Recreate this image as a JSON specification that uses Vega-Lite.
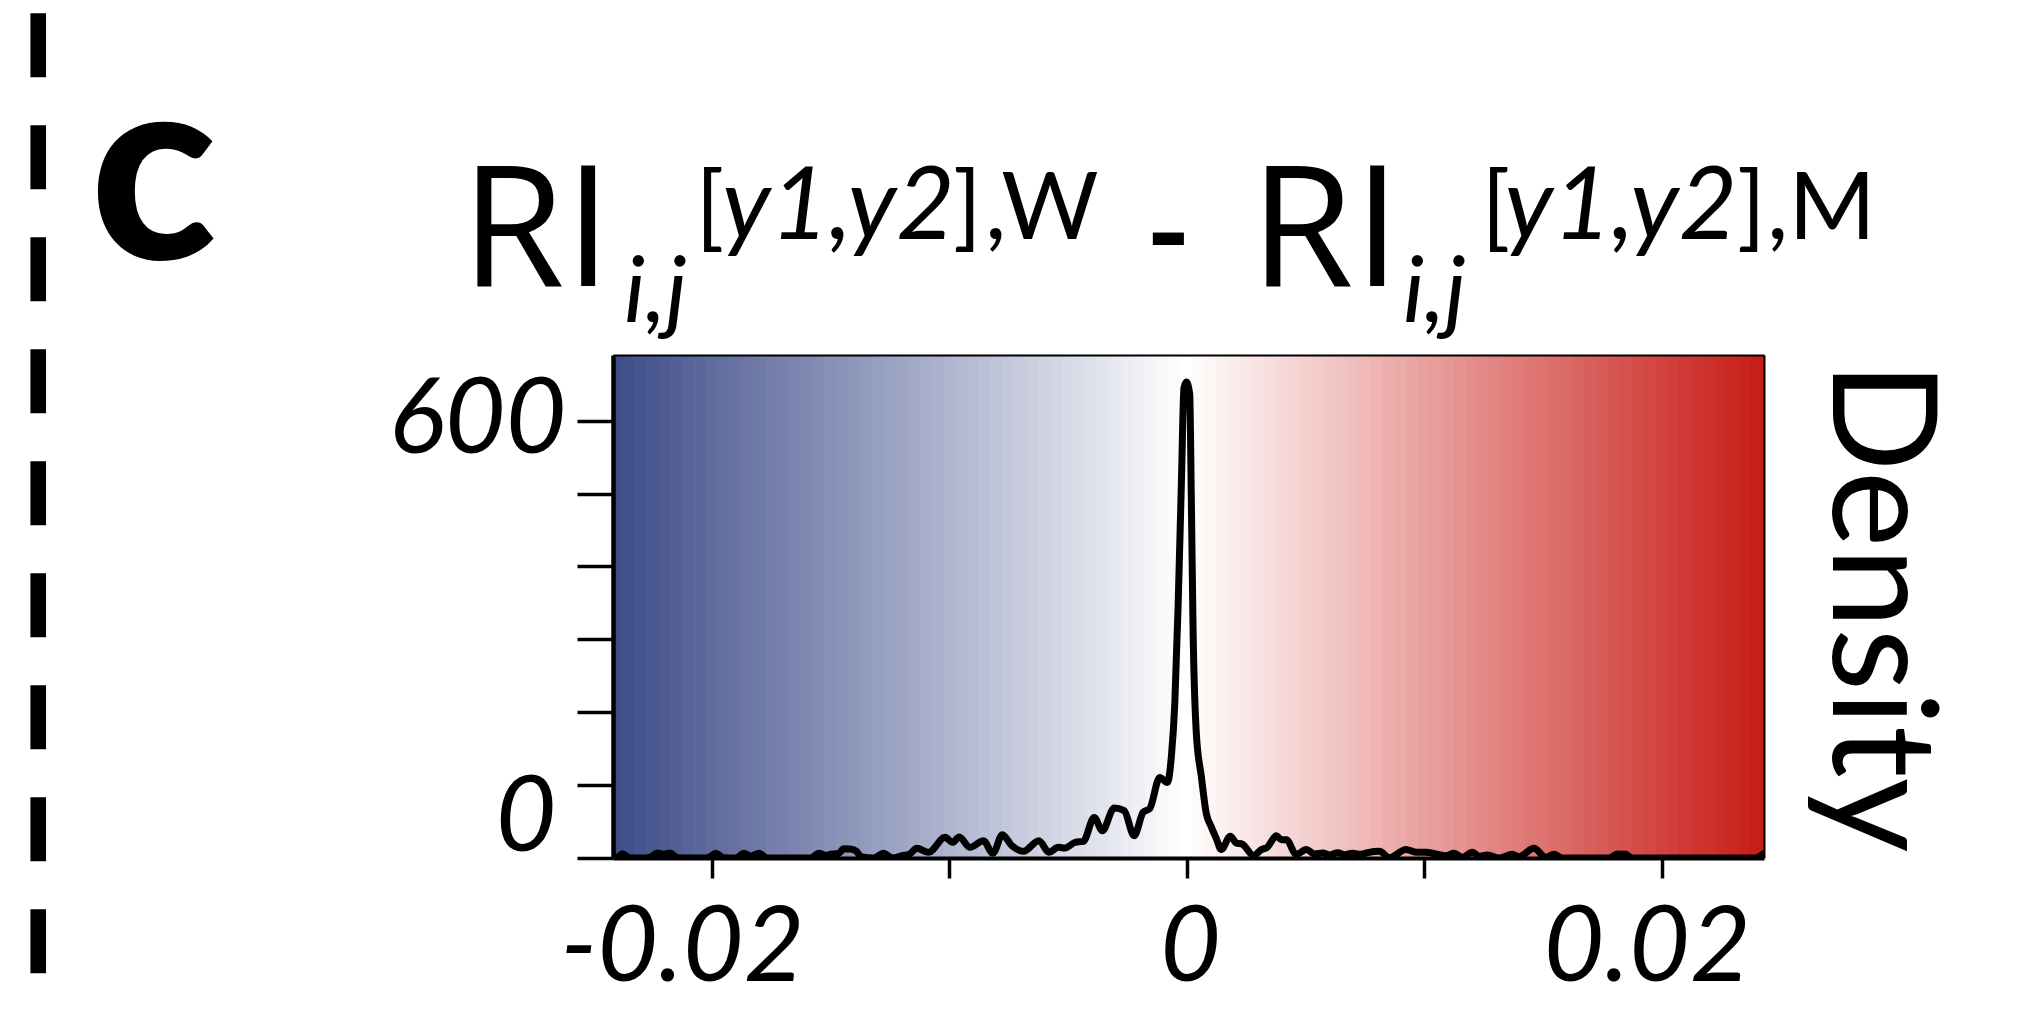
{
"$schema": "https://vega.github.io/schema/vega-lite/v6.json",
"width": 1151, "height": 503,
"autosize": {"type": "none"},
"padding": {"left": 613, "top": 355, "right": 277, "bottom": 162},
"background": "white",
"config": {"view": {"stroke": null}, "font": "Lato"},
"datasets": {
"bands": [
{"lo":-0.02475,"hi":-0.02425,"c":-0.0245},{"lo":-0.02425,"hi":-0.02375,"c":-0.024},{"lo":-0.02375,"hi":-0.02325,"c":-0.0235},{"lo":-0.02325,"hi":-0.02275,"c":-0.023},{"lo":-0.02275,"hi":-0.02225,"c":-0.0225},{"lo":-0.02225,"hi":-0.02175,"c":-0.022},{"lo":-0.02175,"hi":-0.02125,"c":-0.0215},{"lo":-0.02125,"hi":-0.02075,"c":-0.021},{"lo":-0.02075,"hi":-0.02025,"c":-0.0205},{"lo":-0.02025,"hi":-0.01975,"c":-0.02},
{"lo":-0.01975,"hi":-0.01925,"c":-0.0195},{"lo":-0.01925,"hi":-0.01875,"c":-0.019},{"lo":-0.01875,"hi":-0.01825,"c":-0.0185},{"lo":-0.01825,"hi":-0.01775,"c":-0.018},{"lo":-0.01775,"hi":-0.01725,"c":-0.0175},{"lo":-0.01725,"hi":-0.01675,"c":-0.017},{"lo":-0.01675,"hi":-0.01625,"c":-0.0165},{"lo":-0.01625,"hi":-0.01575,"c":-0.016},{"lo":-0.01575,"hi":-0.01525,"c":-0.0155},{"lo":-0.01525,"hi":-0.01475,"c":-0.015},
{"lo":-0.01475,"hi":-0.01425,"c":-0.0145},{"lo":-0.01425,"hi":-0.01375,"c":-0.014},{"lo":-0.01375,"hi":-0.01325,"c":-0.0135},{"lo":-0.01325,"hi":-0.01275,"c":-0.013},{"lo":-0.01275,"hi":-0.01225,"c":-0.0125},{"lo":-0.01225,"hi":-0.01175,"c":-0.012},{"lo":-0.01175,"hi":-0.01125,"c":-0.0115},{"lo":-0.01125,"hi":-0.01075,"c":-0.011},{"lo":-0.01075,"hi":-0.01025,"c":-0.0105},{"lo":-0.01025,"hi":-0.00975,"c":-0.01},
{"lo":-0.00975,"hi":-0.00925,"c":-0.0095},{"lo":-0.00925,"hi":-0.00875,"c":-0.009},{"lo":-0.00875,"hi":-0.00825,"c":-0.0085},{"lo":-0.00825,"hi":-0.00775,"c":-0.008},{"lo":-0.00775,"hi":-0.00725,"c":-0.0075},{"lo":-0.00725,"hi":-0.00675,"c":-0.007},{"lo":-0.00675,"hi":-0.00625,"c":-0.0065},{"lo":-0.00625,"hi":-0.00575,"c":-0.006},{"lo":-0.00575,"hi":-0.00525,"c":-0.0055},{"lo":-0.00525,"hi":-0.00475,"c":-0.005},
{"lo":-0.00475,"hi":-0.00425,"c":-0.0045},{"lo":-0.00425,"hi":-0.00375,"c":-0.004},{"lo":-0.00375,"hi":-0.00325,"c":-0.0035},{"lo":-0.00325,"hi":-0.00275,"c":-0.003},{"lo":-0.00275,"hi":-0.00225,"c":-0.0025},{"lo":-0.00225,"hi":-0.00175,"c":-0.002},{"lo":-0.00175,"hi":-0.00125,"c":-0.0015},{"lo":-0.00125,"hi":-0.00075,"c":-0.001},{"lo":-0.00075,"hi":-0.00025,"c":-0.0005},{"lo":-0.00025,"hi":0.00025,"c":0},
{"lo":0.00025,"hi":0.00075,"c":0.0005},{"lo":0.00075,"hi":0.00125,"c":0.001},{"lo":0.00125,"hi":0.00175,"c":0.0015},{"lo":0.00175,"hi":0.00225,"c":0.002},{"lo":0.00225,"hi":0.00275,"c":0.0025},{"lo":0.00275,"hi":0.00325,"c":0.003},{"lo":0.00325,"hi":0.00375,"c":0.0035},{"lo":0.00375,"hi":0.00425,"c":0.004},{"lo":0.00425,"hi":0.00475,"c":0.0045},{"lo":0.00475,"hi":0.00525,"c":0.005},
{"lo":0.00525,"hi":0.00575,"c":0.0055},{"lo":0.00575,"hi":0.00625,"c":0.006},{"lo":0.00625,"hi":0.00675,"c":0.0065},{"lo":0.00675,"hi":0.00725,"c":0.007},{"lo":0.00725,"hi":0.00775,"c":0.0075},{"lo":0.00775,"hi":0.00825,"c":0.008},{"lo":0.00825,"hi":0.00875,"c":0.0085},{"lo":0.00875,"hi":0.00925,"c":0.009},{"lo":0.00925,"hi":0.00975,"c":0.0095},{"lo":0.00975,"hi":0.01025,"c":0.01},
{"lo":0.01025,"hi":0.01075,"c":0.0105},{"lo":0.01075,"hi":0.01125,"c":0.011},{"lo":0.01125,"hi":0.01175,"c":0.0115},{"lo":0.01175,"hi":0.01225,"c":0.012},{"lo":0.01225,"hi":0.01275,"c":0.0125},{"lo":0.01275,"hi":0.01325,"c":0.013},{"lo":0.01325,"hi":0.01375,"c":0.0135},{"lo":0.01375,"hi":0.01425,"c":0.014},{"lo":0.01425,"hi":0.01475,"c":0.0145},{"lo":0.01475,"hi":0.01525,"c":0.015},
{"lo":0.01525,"hi":0.01575,"c":0.0155},{"lo":0.01575,"hi":0.01625,"c":0.016},{"lo":0.01625,"hi":0.01675,"c":0.0165},{"lo":0.01675,"hi":0.01725,"c":0.017},{"lo":0.01725,"hi":0.01775,"c":0.0175},{"lo":0.01775,"hi":0.01825,"c":0.018},{"lo":0.01825,"hi":0.01875,"c":0.0185},{"lo":0.01875,"hi":0.01925,"c":0.019},{"lo":0.01925,"hi":0.01975,"c":0.0195},{"lo":0.01975,"hi":0.02025,"c":0.02},
{"lo":0.02025,"hi":0.02075,"c":0.0205},{"lo":0.02075,"hi":0.02125,"c":0.021},{"lo":0.02125,"hi":0.02175,"c":0.0215},{"lo":0.02175,"hi":0.02225,"c":0.022},{"lo":0.02225,"hi":0.02275,"c":0.0225},{"lo":0.02275,"hi":0.02325,"c":0.023},{"lo":0.02325,"hi":0.02375,"c":0.0235},{"lo":0.02375,"hi":0.02425,"c":0.024},{"lo":0.02425,"hi":0.02475,"c":0.0245}
],
"density": [
{"x":-0.0242,"d":0.3},{"x":-0.02395,"d":1.5},{"x":-0.02377,"d":5.9},{"x":-0.02349,"d":0.5},{"x":-0.02286,"d":0},{"x":-0.0226,"d":1},{"x":-0.0223,"d":6.9},{"x":-0.02202,"d":5.0},{"x":-0.02177,"d":6.9},{"x":-0.02145,"d":0.5},
{"x":-0.0204,"d":0},{"x":-0.02015,"d":0.8},{"x":-0.01984,"d":6.4},{"x":-0.01952,"d":0.5},{"x":-0.019,"d":0},{"x":-0.01865,"d":6.4},{"x":-0.01837,"d":2.7},{"x":-0.01802,"d":6.4},{"x":-0.01767,"d":0},{"x":-0.01585,"d":0},
{"x":-0.0155,"d":6.4},{"x":-0.01522,"d":3.7},{"x":-0.01494,"d":5.5},{"x":-0.01466,"d":6.4},{"x":-0.01445,"d":12.8},{"x":-0.01417,"d":12.3},{"x":-0.01392,"d":9.1},{"x":-0.01372,"d":1.8},{"x":-0.01319,"d":0},{"x":-0.01277,"d":6.4},
{"x":-0.01242,"d":0.5},{"x":-0.01228,"d":0.5},{"x":-0.012,"d":3.2},{"x":-0.01172,"d":4.6},{"x":-0.01137,"d":13.3},{"x":-0.01088,"d":7.8},{"x":-0.01018,"d":28.3},{"x":-0.00987,"d":21.5},{"x":-0.00959,"d":28.8},{"x":-0.00913,"d":14.6},
{"x":-0.00857,"d":23.8},{"x":-0.00817,"d":6.4},{"x":-0.00777,"d":32},{"x":-0.00737,"d":16.9},{"x":-0.00688,"d":9.1},{"x":-0.00623,"d":23.8},{"x":-0.00581,"d":7.8},{"x":-0.00541,"d":14.6},{"x":-0.00513,"d":13.7},{"x":-0.00471,"d":21.5},
{"x":-0.00436,"d":22.9},{"x":-0.0039,"d":55.7},{"x":-0.00356,"d":37.4},{"x":-0.00306,"d":68.5},{"x":-0.00264,"d":64.9},{"x":-0.00222,"d":30.6},{"x":-0.00184,"d":62.6},{"x":-0.00156,"d":68},{"x":-0.00114,"d":110.5},{"x":-0.00082,"d":103.6},
{"x":-0.00065,"d":140},{"x":-0.00051,"d":210},{"x":-0.00037,"d":343},{"x":-0.00023,"d":514},{"x":-0.00012,"d":645},{"x":-0.00002,"d":653},{"x":0.00012,"d":637},{"x":0.00019,"d":490},{"x":0.00026,"d":318},{"x":0.0004,"d":171},
{"x":0.00061,"d":112},{"x":0.00082,"d":61},{"x":0.00103,"d":42.7},{"x":0.00124,"d":26.7},{"x":0.00145,"d":11.6},{"x":0.00183,"d":30},{"x":0.00208,"d":20.7},{"x":0.00234,"d":18.9},{"x":0.00281,"d":3.4},{"x":0.00314,"d":11.6},
{"x":0.00337,"d":14.2},{"x":0.00377,"d":30.4},{"x":0.00398,"d":25.1},{"x":0.00419,"d":25.1},{"x":0.00461,"d":4.8},{"x":0.00503,"d":11.6},{"x":0.00538,"d":5.5},{"x":0.00573,"d":6.9},{"x":0.00601,"d":4.1},{"x":0.00636,"d":7.3},
{"x":0.00664,"d":4.6},{"x":0.00699,"d":6.4},{"x":0.00734,"d":5},{"x":0.00762,"d":7.3},{"x":0.00811,"d":9.1},{"x":0.00853,"d":0.5},{"x":0.00923,"d":11.6},{"x":0.00965,"d":8},{"x":0.01007,"d":8},{"x":0.01049,"d":5.5},
{"x":0.01091,"d":3.2},{"x":0.01126,"d":6.4},{"x":0.01161,"d":1},{"x":0.01203,"d":8},{"x":0.01231,"d":2.3},{"x":0.01266,"d":4.1},{"x":0.01315,"d":0},{"x":0.01371,"d":5},{"x":0.01399,"d":1.8},{"x":0.01462,"d":13.3},
{"x":0.01512,"d":0.9},{"x":0.01546,"d":5},{"x":0.01581,"d":0},{"x":0.01778,"d":0},{"x":0.01813,"d":5.5},{"x":0.01848,"d":5},{"x":0.01876,"d":0},{"x":0.02394,"d":0},{"x":0.0243,"d":6}
]
},
"resolve": {"axis": {"x": "independent", "y": "independent"}},
"layer": [
{
"data": {"name": "bands"},
"mark": {"type": "rect", "clip": true, "strokeWidth": 1},
"encoding": {
"x": {"field": "lo", "type": "quantitative", "scale": {"domain": [-0.02417, 0.02431], "nice": false, "zero": false},
 "axis": {"orient": "bottom", "values": [-0.02, -0.01, 0, 0.01, 0.02], "domain": true, "domainColor": "black", "domainWidth": 4, "ticks": true, "tickColor": "black", "tickWidth": 3.5, "tickSize": 20,
  "labelExpr": "abs(datum.value) < 0.0001 ? '0' : abs(datum.value + 0.02) < 0.0001 ? '-0.02' : abs(datum.value - 0.02) < 0.0001 ? '0.02' : ''",
  "labelFont": "Lato", "labelFontStyle": "italic", "labelFontSize": 105, "labelColor": "black", "labelPadding": 19, "labelBaseline": "top", "labelAlign": "center", "labelLimit": 1000,
  "labelOffset": {"condition": [{"test": "datum.value < -0.001", "value": -30}, {"test": "datum.value > 0.001", "value": -15}], "value": 3},
  "labelOverlap": false, "labelFlush": false, "labelBound": false, "grid": false, "title": null, "zindex": 1}},
"x2": {"field": "hi"},
"color": {"field": "c", "type": "quantitative", "scale": {"domain": [-0.0242, 0, 0.0242], "range": ["#3D4C89", "#FFFFFF", "#C81C17"], "interpolate": "rgb", "clamp": true}, "legend": null},
"stroke": {"field": "c", "type": "quantitative", "scale": {"domain": [-0.0242, 0, 0.0242], "range": ["#3D4C89", "#FFFFFF", "#C81C17"], "interpolate": "rgb", "clamp": true}, "legend": null}
}
},
{
"data": {"name": "density"},
"mark": {"type": "line", "interpolate": "monotone", "stroke": "black", "strokeWidth": 7, "strokeJoin": "round", "strokeCap": "round", "clip": true},
"encoding": {
"x": {"field": "x", "type": "quantitative", "scale": {"domain": [-0.02417, 0.02431], "nice": false, "zero": false},
 "axis": {"orient": "top", "domainColor": "black", "domainWidth": 2, "ticks": false, "labels": false, "grid": false, "title": null, "zindex": 1}},
"y": {"field": "d", "type": "quantitative", "scale": {"domain": [0, 690], "nice": false, "zero": false},
 "axis": {"orient": "left", "values": [0, 100, 200, 300, 400, 500, 600], "domainColor": "black", "domainWidth": 4.5, "tickColor": "black", "tickWidth": 3.5, "tickSize": 36,
  "labelExpr": "datum.value == 0 ? '0' : datum.value == 600 ? '600' : ''",
  "labelFont": "Lato", "labelFontStyle": "italic", "labelFontSize": 105, "labelColor": "black", "labelAlign": "right", "labelBaseline": "middle", "labelLimit": 1000,
  "labelPadding": {"condition": {"test": "datum.value == 0", "value": 21}, "value": 11},
  "labelOffset": {"condition": {"test": "datum.value == 0", "value": -40}, "value": 0},
  "labelOverlap": false, "labelFlush": false, "labelBound": false, "grid": false, "title": null, "zindex": 1}}
}
},
{
"data": {"values": [{}]},
"mark": {"type": "rule", "color": "black", "strokeWidth": 15.6, "strokeDash": [64, 48], "strokeCap": "butt"},
"encoding": {
"x": {"datum": -0.048379, "type": "quantitative", "scale": {"domain": [-0.02417, 0.02431], "nice": false, "zero": false}, "axis": null},
"y": {"datum": 1158.7, "type": "quantitative", "scale": {"domain": [0, 690], "nice": false, "zero": false},
 "axis": {"orient": "right", "domainColor": "black", "domainWidth": 2, "ticks": false, "labels": false, "grid": false, "title": "Density", "titleFont": "Lato", "titleFontSize": 145, "titleFontWeight": "normal", "titleColor": "black", "titleAngle": 90, "titleAlign": "center", "titleBaseline": "alphabetic", "titleX": 68, "titleY": 251.5, "titleLimit": 1000, "zindex": 1}},
"y2": {"datum": -158.2}
}
},
{"data": {"values": [{}]}, "mark": {"type": "text", "text": "c", "font": "Lato", "fontSize": 262, "fontWeight": 900, "align": "left", "baseline": "alphabetic", "color": "black"},
 "encoding": {"x": {"datum": -0.046197, "type": "quantitative", "scale": {"domain": [-0.02417, 0.02431], "nice": false, "zero": false}, "axis": null}, "y": {"datum": 821.69, "type": "quantitative", "scale": {"domain": [0, 690], "nice": false, "zero": false}, "axis": null}}},
{"data": {"values": [{}]}, "mark": {"type": "text", "text": "RI", "font": "Open Sans", "fontSize": 168, "align": "left", "baseline": "alphabetic", "color": "black"},
 "encoding": {"x": {"datum": -0.03057, "type": "quantitative", "scale": {"domain": [-0.02417, 0.02431], "nice": false, "zero": false}, "axis": null}, "y": {"datum": 783.97, "type": "quantitative", "scale": {"domain": [0, 690], "nice": false, "zero": false}, "axis": null}}},
{"data": {"values": [{}]}, "mark": {"type": "text", "text": "i,j", "font": "Lato", "fontSize": 92, "fontStyle": "italic", "align": "left", "baseline": "alphabetic", "color": "black"},
 "encoding": {"x": {"datum": -0.023705, "type": "quantitative", "scale": {"domain": [-0.02417, 0.02431], "nice": false, "zero": false}, "axis": null}, "y": {"datum": 735.67, "type": "quantitative", "scale": {"domain": [0, 690], "nice": false, "zero": false}, "axis": null}}},
{"data": {"values": [{}]}, "mark": {"type": "text", "text": "[", "font": "Lato", "fontSize": 94, "align": "left", "baseline": "alphabetic", "color": "black"},
 "encoding": {"x": {"datum": -0.020693, "type": "quantitative", "scale": {"domain": [-0.02417, 0.02431], "nice": false, "zero": false}, "axis": null}, "y": {"datum": 848.71, "type": "quantitative", "scale": {"domain": [0, 690], "nice": false, "zero": false}, "axis": null}}},
{"data": {"values": [{}]}, "mark": {"type": "text", "text": "y1,y2", "font": "Lato", "fontSize": 101, "fontStyle": "italic", "align": "left", "baseline": "alphabetic", "color": "black"},
 "encoding": {"x": {"datum": -0.019577, "type": "quantitative", "scale": {"domain": [-0.02417, 0.02431], "nice": false, "zero": false}, "axis": null}, "y": {"datum": 848.71, "type": "quantitative", "scale": {"domain": [0, 690], "nice": false, "zero": false}, "axis": null}}},
{"data": {"values": [{}]}, "mark": {"type": "text", "text": "]", "font": "Lato", "fontSize": 94, "align": "left", "baseline": "alphabetic", "color": "black"},
 "encoding": {"x": {"datum": -0.009848, "type": "quantitative", "scale": {"domain": [-0.02417, 0.02431], "nice": false, "zero": false}, "axis": null}, "y": {"datum": 848.71, "type": "quantitative", "scale": {"domain": [0, 690], "nice": false, "zero": false}, "axis": null}}},
{"data": {"values": [{}]}, "mark": {"type": "text", "text": ",W", "font": "Lato", "fontSize": 94, "align": "left", "baseline": "alphabetic", "color": "black"},
 "encoding": {"x": {"datum": -0.0085, "type": "quantitative", "scale": {"domain": [-0.02417, 0.02431], "nice": false, "zero": false}, "axis": null}, "y": {"datum": 848.71, "type": "quantitative", "scale": {"domain": [0, 690], "nice": false, "zero": false}, "axis": null}}},
{"data": {"values": [{}]}, "mark": {"type": "text", "text": "-", "font": "Lato", "fontSize": 120, "fontWeight": "bold", "align": "left", "baseline": "alphabetic", "color": "black"},
 "encoding": {"x": {"datum": -0.001719, "type": "quantitative", "scale": {"domain": [-0.02417, 0.02431], "nice": false, "zero": false}, "axis": null}, "y": {"datum": 799.74, "type": "quantitative", "scale": {"domain": [0, 690], "nice": false, "zero": false}, "axis": null}}},
{"data": {"values": [{}]}, "mark": {"type": "text", "text": "RI", "font": "Open Sans", "fontSize": 168, "align": "left", "baseline": "alphabetic", "color": "black"},
 "encoding": {"x": {"datum": 0.002662, "type": "quantitative", "scale": {"domain": [-0.02417, 0.02431], "nice": false, "zero": false}, "axis": null}, "y": {"datum": 783.97, "type": "quantitative", "scale": {"domain": [0, 690], "nice": false, "zero": false}, "axis": null}}},
{"data": {"values": [{}]}, "mark": {"type": "text", "text": "i,j", "font": "Lato", "fontSize": 92, "fontStyle": "italic", "align": "left", "baseline": "alphabetic", "color": "black"},
 "encoding": {"x": {"datum": 0.009106, "type": "quantitative", "scale": {"domain": [-0.02417, 0.02431], "nice": false, "zero": false}, "axis": null}, "y": {"datum": 735.67, "type": "quantitative", "scale": {"domain": [0, 690], "nice": false, "zero": false}, "axis": null}}},
{"data": {"values": [{}]}, "mark": {"type": "text", "text": "[", "font": "Lato", "fontSize": 94, "align": "left", "baseline": "alphabetic", "color": "black"},
 "encoding": {"x": {"datum": 0.012413, "type": "quantitative", "scale": {"domain": [-0.02417, 0.02431], "nice": false, "zero": false}, "axis": null}, "y": {"datum": 848.71, "type": "quantitative", "scale": {"domain": [0, 690], "nice": false, "zero": false}, "axis": null}}},
{"data": {"values": [{}]}, "mark": {"type": "text", "text": "y1,y2", "font": "Lato", "fontSize": 101, "fontStyle": "italic", "align": "left", "baseline": "alphabetic", "color": "black"},
 "encoding": {"x": {"datum": 0.013381, "type": "quantitative", "scale": {"domain": [-0.02417, 0.02431], "nice": false, "zero": false}, "axis": null}, "y": {"datum": 848.71, "type": "quantitative", "scale": {"domain": [0, 690], "nice": false, "zero": false}, "axis": null}}},
{"data": {"values": [{}]}, "mark": {"type": "text", "text": "]", "font": "Lato", "fontSize": 94, "align": "left", "baseline": "alphabetic", "color": "black"},
 "encoding": {"x": {"datum": 0.023174, "type": "quantitative", "scale": {"domain": [-0.02417, 0.02431], "nice": false, "zero": false}, "axis": null}, "y": {"datum": 848.71, "type": "quantitative", "scale": {"domain": [0, 690], "nice": false, "zero": false}, "axis": null}}},
{"data": {"values": [{}]}, "mark": {"type": "text", "text": ",M", "font": "Lato", "fontSize": 94, "align": "left", "baseline": "alphabetic", "color": "black"},
 "encoding": {"x": {"datum": 0.024438, "type": "quantitative", "scale": {"domain": [-0.02417, 0.02431], "nice": false, "zero": false}, "axis": null}, "y": {"datum": 848.71, "type": "quantitative", "scale": {"domain": [0, 690], "nice": false, "zero": false}, "axis": null}}}
]
}
